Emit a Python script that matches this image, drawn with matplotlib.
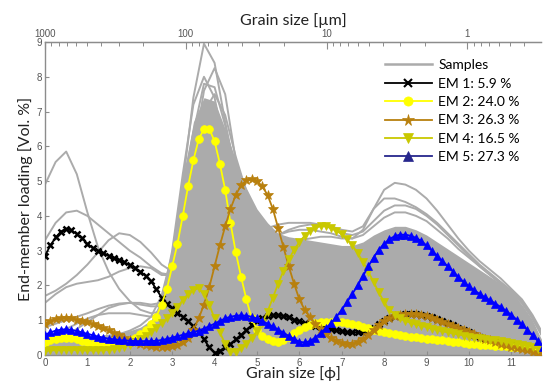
import numpy as np
import matplotlib
matplotlib.use("Agg")
import matplotlib.pyplot as plt
from matplotlib.lines import Line2D
from matplotlib.ticker import FixedLocator

# ---------------- data ----------------
phi_classes = np.linspace(0, 11.75, 95)   # end-member grid (0.125 phi)
phi_samples = np.linspace(0, 11.75, 48)   # sample grid (0.25 phi)

em1 = [2.85, 3.15, 3.38, 3.55, 3.63, 3.58, 3.48, 3.35,
       3.20, 3.08, 3.00, 2.93, 2.86, 2.80, 2.73, 2.66,
       2.58, 2.50, 2.40, 2.28, 2.12, 1.90, 1.65, 1.48,
       1.35, 1.22, 1.10, 0.97, 0.83, 0.66, 0.45, 0.22,
       0.06, 0.12, 0.22, 0.32, 0.45, 0.58, 0.72, 0.86,
       0.98, 1.06, 1.12, 1.15, 1.15, 1.12, 1.08, 1.02,
       0.97, 0.92, 0.88, 0.84, 0.80, 0.77, 0.74, 0.71,
       0.68, 0.66, 0.65, 0.65, 0.66, 0.70, 0.78, 0.88,
       0.98, 1.06, 1.12, 1.16, 1.18, 1.19, 1.18, 1.16,
       1.13, 1.09, 1.04, 0.98, 0.92, 0.85, 0.78, 0.71,
       0.65, 0.58, 0.52, 0.47, 0.43, 0.40, 0.37, 0.35,
       0.33, 0.30, 0.27, 0.24, 0.20, 0.17, 0.14]
em2 = [0.35, 0.42, 0.47, 0.50, 0.50, 0.48, 0.45, 0.41,
       0.37, 0.33, 0.30, 0.28, 0.27, 0.28, 0.31, 0.36,
       0.42, 0.50, 0.60, 0.72, 0.88, 1.10, 1.45, 1.90,
       2.55, 3.20, 4.00, 4.85, 5.60, 6.20, 6.50, 6.50,
       6.15, 5.50, 4.75, 3.80, 2.95, 2.25, 1.60, 1.05,
       0.72, 0.55, 0.45, 0.40, 0.38, 0.42, 0.52, 0.62,
       0.72, 0.80, 0.87, 0.92, 0.95, 0.96, 0.96, 0.95,
       0.94, 0.92, 0.89, 0.85, 0.81, 0.77, 0.73, 0.69,
       0.66, 0.63, 0.60, 0.57, 0.55, 0.53, 0.51, 0.49,
       0.47, 0.45, 0.43, 0.42, 0.40, 0.38, 0.36, 0.35,
       0.33, 0.32, 0.30, 0.29, 0.28, 0.27, 0.26, 0.25,
       0.24, 0.23, 0.22, 0.20, 0.18, 0.16, 0.14]
em3 = [0.90, 0.98, 1.03, 1.06, 1.07, 1.05, 1.02, 0.98,
       0.94, 0.89, 0.83, 0.77, 0.71, 0.64, 0.57, 0.50,
       0.44, 0.38, 0.33, 0.29, 0.26, 0.24, 0.23, 0.24,
       0.26, 0.30, 0.37, 0.50, 0.72, 1.05, 1.45, 1.95,
       2.55, 3.15, 3.70, 4.20, 4.60, 4.88, 5.02, 5.05,
       5.00, 4.85, 4.60, 4.20, 3.65, 3.10, 2.55, 2.05,
       1.60, 1.30, 1.08, 0.90, 0.75, 0.60, 0.48, 0.40,
       0.35, 0.32, 0.32, 0.36, 0.45, 0.58, 0.73, 0.86,
       0.97, 1.05, 1.11, 1.15, 1.17, 1.18, 1.17, 1.15,
       1.12, 1.07, 1.02, 0.96, 0.90, 0.83, 0.77, 0.71,
       0.65, 0.59, 0.53, 0.47, 0.42, 0.37, 0.33, 0.28,
       0.24, 0.20, 0.17, 0.14, 0.10, 0.07, 0.05]
em4 = [0.12, 0.13, 0.14, 0.15, 0.15, 0.15, 0.14, 0.14,
       0.13, 0.13, 0.13, 0.14, 0.15, 0.17, 0.20, 0.24,
       0.30, 0.37, 0.45, 0.55, 0.66, 0.78, 0.92, 1.05,
       1.20, 1.38, 1.58, 1.75, 1.87, 1.92, 1.75, 1.45,
       1.05, 0.65, 0.32, 0.10, 0.10, 0.20, 0.32, 0.50,
       0.68, 0.92, 1.25, 1.65, 2.05, 2.42, 2.75, 3.02,
       3.25, 3.43, 3.57, 3.66, 3.70, 3.70, 3.65, 3.57,
       3.47, 3.33, 3.15, 2.93, 2.68, 2.40, 2.10, 1.80,
       1.52, 1.30, 1.15, 1.05, 0.98, 0.93, 0.88, 0.84,
       0.80, 0.76, 0.72, 0.68, 0.65, 0.62, 0.59, 0.56,
       0.53, 0.50, 0.48, 0.46, 0.44, 0.42, 0.40, 0.38,
       0.35, 0.32, 0.29, 0.26, 0.22, 0.18, 0.14]
em5 = [0.58, 0.65, 0.70, 0.73, 0.74, 0.72, 0.69, 0.65,
       0.61, 0.57, 0.53, 0.50, 0.47, 0.45, 0.43, 0.42,
       0.41, 0.40, 0.40, 0.40, 0.40, 0.41, 0.43, 0.46,
       0.50, 0.54, 0.58, 0.62, 0.66, 0.70, 0.76, 0.83,
       0.90, 0.98, 1.05, 1.10, 1.13, 1.14, 1.13, 1.10,
       1.05, 0.98, 0.90, 0.82, 0.73, 0.64, 0.55, 0.46,
       0.38, 0.36, 0.40, 0.50, 0.63, 0.77, 0.92, 1.10,
       1.30, 1.52, 1.76, 2.00, 2.27, 2.55, 2.80, 3.03,
       3.20, 3.33, 3.42, 3.46, 3.46, 3.43, 3.37, 3.28,
       3.15, 3.00, 2.85, 2.70, 2.55, 2.40, 2.25, 2.10,
       1.97, 1.86, 1.76, 1.66, 1.57, 1.48, 1.38, 1.27,
       1.15, 1.02, 0.88, 0.73, 0.57, 0.40, 0.22]

em_labels = ["EM 1: 5.9 %", "EM 2: 24.0 %", "EM 3: 26.3 %", "EM 4: 16.5 %", "EM 5: 27.3 %"]

# densely overlapping sample curves (filled envelope)
sample_core = [0.35, 0.45, 0.50, 0.50, 0.50, 0.55, 0.60, 0.65, 0.70, 0.80, 1.00, 1.60,
               3.00, 5.00, 6.70, 7.40, 7.30, 6.50, 5.60, 4.80, 4.20, 3.80, 3.50, 3.40,
               3.35, 3.30, 3.25, 3.20, 3.15, 3.15, 3.25, 3.45, 3.60, 3.70, 3.70, 3.60,
               3.45, 3.25, 3.05, 2.85, 2.65, 2.45, 2.25, 2.05, 1.80, 1.45, 1.00, 0.35]

# individual visible sample curves
sample_a = [4.90, 5.55, 5.85, 5.20, 4.10, 3.10, 2.40, 1.90, 1.55, 1.30, 1.20, 1.25,
            1.50, 2.10, 2.80, 3.20, 3.20, 2.90, 2.60, 2.40, 2.20, 2.05, 1.95, 1.90,
            1.85, 1.80, 1.75, 1.70, 1.65, 1.60, 1.60, 1.60, 1.60, 1.60, 1.55, 1.50,
            1.45, 1.35, 1.25, 1.15, 1.05, 0.95, 0.85, 0.75, 0.65, 0.50, 0.35, 0.15]
sample_b = [3.30, 3.80, 4.10, 4.15, 4.00, 3.75, 3.50, 3.25, 3.00, 2.80, 2.55, 2.35,
            2.30, 2.60, 3.10, 3.40, 3.30, 3.00, 2.70, 2.50, 2.35, 2.25, 2.20, 2.15,
            2.10, 2.05, 2.00, 1.95, 1.90, 1.90, 1.90, 1.95, 2.00, 2.00, 1.95, 1.90,
            1.80, 1.70, 1.55, 1.40, 1.30, 1.15, 1.00, 0.90, 0.75, 0.60, 0.40, 0.20]
sample_c = [1.70, 1.85, 2.05, 2.30, 2.60, 2.95, 3.30, 3.50, 3.45, 3.25, 2.95, 2.60,
            2.40, 2.60, 3.20, 3.60, 3.50, 3.20, 2.90, 2.65, 2.45, 2.30, 2.20, 2.10,
            2.05, 2.00, 1.95, 1.90, 1.85, 1.85, 1.90, 1.95, 2.00, 2.00, 1.95, 1.85,
            1.75, 1.60, 1.45, 1.30, 1.20, 1.05, 0.95, 0.80, 0.70, 0.55, 0.40, 0.20]
sample_d = [1.50, 1.75, 1.95, 2.05, 2.10, 2.15, 2.25, 2.40, 2.50, 2.55, 2.50, 2.30,
            2.30, 2.90, 3.90, 4.50, 4.40, 3.90, 3.40, 3.00, 2.75, 2.60, 2.50, 2.45,
            2.40, 2.35, 2.30, 2.25, 2.20, 2.20, 2.25, 2.30, 2.35, 2.35, 2.30, 2.20,
            2.05, 1.90, 1.75, 1.60, 1.45, 1.30, 1.15, 1.00, 0.85, 0.70, 0.45, 0.20]
sample_e = [0.80, 0.90, 1.00, 1.10, 1.20, 1.32, 1.42, 1.48, 1.50, 1.45, 1.40, 1.40,
            1.60, 2.30, 3.30, 4.00, 4.10, 3.70, 3.20, 2.80, 2.55, 2.40, 2.30, 2.25,
            2.20, 2.15, 2.10, 2.05, 2.00, 2.00, 2.05, 2.10, 2.20, 2.25, 2.20, 2.10,
            2.00, 1.85, 1.70, 1.55, 1.40, 1.25, 1.10, 0.95, 0.80, 0.65, 0.45, 0.20]
sample_f = [0.50, 0.60, 0.75, 0.90, 1.05, 1.15, 1.20, 1.20, 1.20, 1.15, 1.10, 1.20,
            1.60, 2.60, 4.00, 5.00, 5.00, 4.40, 3.70, 3.20, 2.90, 2.70, 2.60, 2.55,
            2.50, 2.45, 2.40, 2.35, 2.30, 2.30, 2.35, 2.40, 2.45, 2.45, 2.40, 2.30,
            2.15, 2.00, 1.85, 1.70, 1.55, 1.40, 1.25, 1.10, 0.95, 0.75, 0.50, 0.25]
sample_g = [0.30, 0.40, 0.55, 0.75, 0.95, 1.15, 1.35, 1.45, 1.50, 1.50, 1.45, 1.50,
            1.90, 3.00, 4.60, 5.80, 5.90, 5.10, 4.20, 3.60, 3.20, 2.95, 2.80, 2.70,
            2.65, 2.60, 2.55, 2.50, 2.45, 2.45, 2.50, 2.55, 2.60, 2.60, 2.55, 2.45,
            2.30, 2.15, 2.00, 1.85, 1.70, 1.55, 1.40, 1.20, 1.05, 0.85, 0.55, 0.25]
sample_h = [0.20, 0.25, 0.30, 0.30, 0.35, 0.35, 0.40, 0.45, 0.50, 0.60, 0.80, 1.30,
            2.60, 4.90, 7.40, 8.95, 8.40, 6.70, 5.20, 4.20, 3.60, 3.30, 3.10, 3.00,
            2.90, 2.85, 2.80, 2.75, 2.70, 2.70, 2.75, 2.80, 2.85, 2.85, 2.80, 2.70,
            2.55, 2.40, 2.20, 2.00, 1.80, 1.60, 1.40, 1.20, 1.00, 0.80, 0.50, 0.20]
sample_i = [0.15, 0.20, 0.20, 0.25, 0.25, 0.30, 0.30, 0.35, 0.40, 0.50, 0.65, 1.00,
            1.90, 3.50, 5.70, 7.60, 8.25, 7.50, 5.60, 4.40, 3.80, 3.40, 3.20, 3.10,
            3.00, 2.95, 2.90, 2.85, 2.80, 2.80, 2.85, 2.90, 2.95, 2.95, 2.90, 2.80,
            2.65, 2.45, 2.25, 2.05, 1.85, 1.65, 1.45, 1.25, 1.05, 0.85, 0.55, 0.25]
sample_j = [0.10, 0.15, 0.20, 0.20, 0.25, 0.25, 0.30, 0.30, 0.35, 0.45, 0.60, 1.20,
            2.40, 4.30, 6.40, 7.80, 7.70, 6.60, 5.30, 4.40, 3.80, 3.50, 3.30, 3.20,
            3.10, 3.05, 3.00, 2.95, 2.90, 2.90, 2.95, 3.00, 3.05, 3.05, 3.00, 2.90,
            2.75, 2.55, 2.35, 2.15, 1.95, 1.75, 1.55, 1.30, 1.10, 0.85, 0.55, 0.25]
sample_k = [0.10, 0.10, 0.15, 0.15, 0.20, 0.20, 0.25, 0.25, 0.30, 0.35, 0.45, 0.80,
            1.60, 3.20, 5.30, 7.00, 7.50, 6.90, 5.70, 4.70, 4.00, 3.60, 3.40, 3.30,
            3.20, 3.15, 3.10, 3.05, 3.00, 3.00, 3.05, 3.10, 3.15, 3.15, 3.10, 3.00,
            2.85, 2.65, 2.45, 2.25, 2.05, 1.85, 1.60, 1.35, 1.10, 0.85, 0.55, 0.25]
sample_l = [0.30, 0.35, 0.40, 0.40, 0.45, 0.50, 0.55, 0.60, 0.70, 0.85, 1.10, 1.70,
            2.90, 4.90, 6.40, 6.90, 6.40, 5.40, 4.50, 3.90, 3.50, 3.25, 3.10, 3.00,
            2.95, 2.90, 2.85, 2.80, 2.75, 2.75, 2.80, 2.85, 2.90, 2.90, 2.85, 2.75,
            2.60, 2.45, 2.25, 2.05, 1.85, 1.65, 1.45, 1.25, 1.05, 0.80, 0.50, 0.20]
sample_m = [0.20, 0.20, 0.25, 0.25, 0.30, 0.30, 0.35, 0.40, 0.45, 0.55, 0.75, 1.50,
            3.00, 5.20, 7.20, 8.00, 7.40, 5.90, 4.60, 3.90, 3.50, 3.20, 3.05, 2.95,
            2.90, 2.85, 2.80, 2.75, 2.70, 2.70, 2.75, 2.80, 2.85, 2.85, 2.80, 2.70,
            2.55, 2.40, 2.20, 2.00, 1.80, 1.60, 1.40, 1.20, 1.00, 0.80, 0.50, 0.20]
sample_n = [0.10, 0.12, 0.14, 0.15, 0.16, 0.18, 0.20, 0.22, 0.25, 0.30, 0.40, 0.60,
            1.00, 1.60, 2.20, 2.60, 2.80, 2.85, 2.85, 2.85, 2.90, 3.00, 3.10, 3.20,
            3.30, 3.35, 3.40, 3.40, 3.35, 3.35, 3.60, 4.20, 4.75, 4.95, 4.90, 4.75,
            4.50, 4.15, 3.75, 3.35, 3.00, 2.70, 2.45, 2.20, 1.90, 1.60, 1.15, 0.60]
sample_o = [0.10, 0.10, 0.12, 0.13, 0.15, 0.17, 0.20, 0.22, 0.25, 0.30, 0.40, 0.70,
            1.20, 1.90, 2.60, 3.00, 3.10, 3.05, 3.00, 3.00, 3.10, 3.25, 3.45, 3.60,
            3.70, 3.75, 3.75, 3.70, 3.60, 3.55, 3.70, 4.20, 4.50, 4.50, 4.40, 4.25,
            4.05, 3.80, 3.50, 3.20, 2.90, 2.60, 2.35, 2.10, 1.85, 1.55, 1.10, 0.55]
sample_p = [0.15, 0.15, 0.17, 0.18, 0.20, 0.22, 0.25, 0.28, 0.32, 0.40, 0.55, 0.90,
            1.60, 2.60, 3.40, 3.70, 3.60, 3.45, 3.40, 3.45, 3.55, 3.65, 3.75, 3.80,
            3.80, 3.80, 3.75, 3.65, 3.50, 3.45, 3.55, 3.85, 4.15, 4.30, 4.30, 4.20,
            4.00, 3.75, 3.45, 3.15, 2.85, 2.55, 2.30, 2.05, 1.80, 1.50, 1.05, 0.50]
sample_q = [0.10, 0.10, 0.10, 0.12, 0.14, 0.16, 0.18, 0.20, 0.24, 0.30, 0.40, 0.60,
            1.00, 1.70, 2.40, 2.80, 2.95, 3.00, 3.00, 3.05, 3.15, 3.30, 3.45, 3.55,
            3.60, 3.60, 3.55, 3.50, 3.40, 3.35, 3.45, 3.70, 3.95, 4.10, 4.10, 4.00,
            3.85, 3.60, 3.35, 3.05, 2.80, 2.55, 2.30, 2.05, 1.80, 1.50, 1.05, 0.50]

sample_curves = [sample_a, sample_b, sample_c, sample_d, sample_e, sample_f, sample_g,
                 sample_h, sample_i, sample_j, sample_k, sample_l, sample_m,
                 sample_n, sample_o, sample_p, sample_q]

top_ticks_um = [1000, 100, 10, 1]
top_tick_labels = ["1000", "100", "10", "1"]
top_minor_um = [900, 800, 700, 600, 500, 400, 300, 200,
                90, 80, 70, 60, 50, 40, 30, 20,
                9, 8, 7, 6, 5, 4, 3, 2,
                0.9, 0.8, 0.7, 0.6, 0.5, 0.4]

# ---------------- style ----------------
TXT = ["Lato", "DejaVu Sans"]
gray = "#ababab"
em_colors = ["#000000", "#ffff00", "#b8800e", "#c9c800", "#0000ff"]
em_legend_colors = ["#000000", "#ffff00", "#b8800e", "#c9c800", "#26268c"]
em_markers = ["x", "o", "*", "v", "^"]
em_ms = [4.5, 5.6, 7.5, 5.6, 5.6]

fig = plt.figure(figsize=(5.44, 3.83), dpi=100)
ax = fig.add_axes([45 / 544, 1 - 355 / 383, 496 / 544, 313 / 383])
ax.set_xlim(0, 11.7)
ax.set_ylim(0, 9)

ax.fill_between(phi_samples, 0, sample_core, color=gray, lw=0, zorder=1)
for s in sample_curves:
    ax.plot(phi_samples, s, color=gray, lw=1.4, zorder=2, solid_capstyle="round")

for vals, c, m, ms in zip([em1, em2, em3, em4, em5], em_colors, em_markers, em_ms):
    ax.plot(phi_classes, vals, color=c, lw=1.3, marker=m, ms=ms,
            mew=1.8 if m == "x" else 0.5, mec=c, mfc=c, zorder=3, clip_on=True)

# axes styling
for side in ["left", "bottom", "top"]:
    ax.spines[side].set_color("#8c8c8c")
    ax.spines[side].set_linewidth(1.0)
ax.spines["right"].set_visible(False)
ax.set_xticks(range(0, 12))
ax.set_yticks(range(0, 10))
ax.tick_params(direction="in", length=3, width=0.8, color="#8c8c8c",
               labelsize=7, labelcolor="#555555", pad=2)
for lab in ax.get_xticklabels() + ax.get_yticklabels():
    lab.set_family(["Liberation Sans", "DejaVu Sans"])

ax.set_xlabel("Grain size [\u03d5]", fontsize=11.5, family=TXT, color="#222222", labelpad=-1)
ax.set_ylabel("End-member loading [Vol. %]", fontsize=11.5, family=TXT, color="#222222", labelpad=3)


def phi_to_um(p):
    return 1000.0 * np.power(2.0, -np.asarray(p, dtype=float))


def um_to_phi(d):
    d = np.clip(np.asarray(d, dtype=float), 1e-9, None)
    return -np.log2(d / 1000.0)


sec = ax.secondary_xaxis("top", functions=(phi_to_um, um_to_phi))
sec.set_xticks(top_ticks_um)
sec.set_xticklabels(top_tick_labels)
sec.xaxis.set_minor_locator(FixedLocator(top_minor_um))
sec.tick_params(which="major", direction="in", length=5, width=0.8, color="#8c8c8c",
                labelsize=7, labelcolor="#555555", pad=2)
sec.tick_params(which="minor", direction="in", length=3, width=0.7, color="#8c8c8c")
sec.spines["top"].set_color("#8c8c8c")
for lab in sec.get_xticklabels():
    lab.set_family(["Liberation Sans", "DejaVu Sans"])
sec.set_xlabel("Grain size [\u00b5m]", fontsize=11.5, family=TXT, color="#222222", labelpad=3)

# legend (two blocks)
h_samples = [Line2D([], [], color=gray, lw=1.8)]
leg1 = ax.legend(h_samples, ["Samples"], loc="upper left", bbox_to_anchor=(0.685, 0.945),
                 frameon=False, handlelength=3.4, handletextpad=0.45, borderpad=0,
                 borderaxespad=0, prop={"family": TXT, "size": 10})
ax.add_artist(leg1)
h_em = [Line2D([], [], color=c, lw=1.3, marker=m, ms=ms + 1.0,
               mew=1.5 if m == "x" else 0.5, mec=c, mfc=c)
        for c, m, ms in zip(em_legend_colors, em_markers, em_ms)]
ax.legend(h_em, em_labels, loc="upper left", bbox_to_anchor=(0.685, 0.885),
          frameon=False, handlelength=3.4, handletextpad=0.45, borderpad=0,
          borderaxespad=0, labelspacing=0.45, prop={"family": TXT, "size": 10})

fig.savefig("out.png", dpi=100)
